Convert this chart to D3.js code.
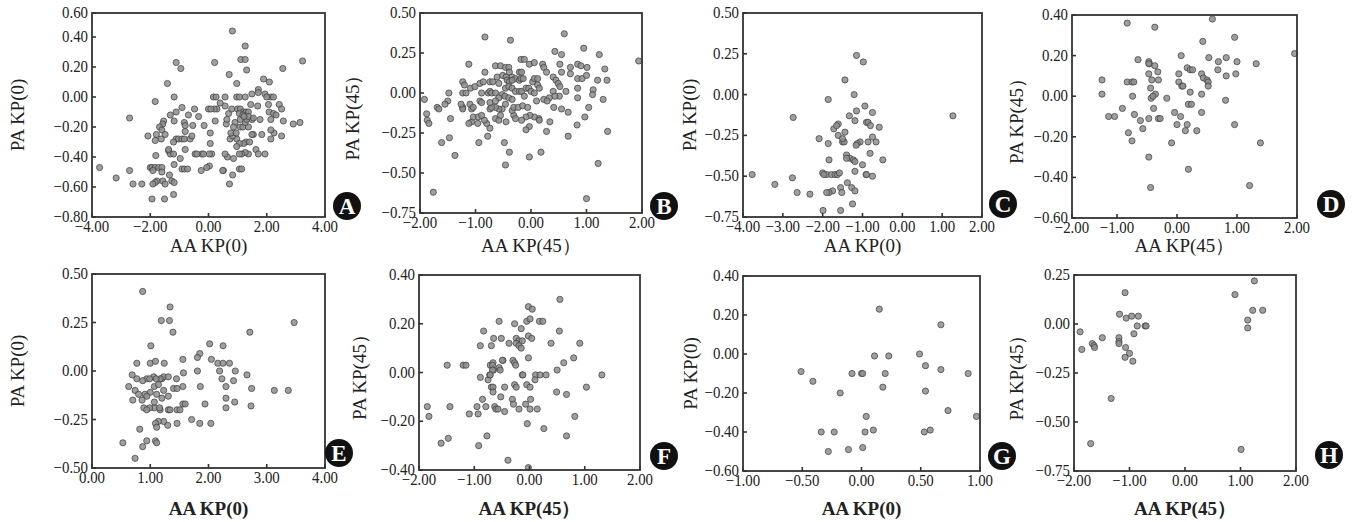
<!DOCTYPE html>
<html>
<head>
<meta charset="utf-8">
<script src="https://cdnjs.cloudflare.com/ajax/libs/d3/7.8.5/d3.min.js"></script>
<style>
body { margin: 0; background: #fff; }
text { font-family: "Liberation Serif", "Times New Roman", serif; fill: #222; }
</style>
</head>
<body>
<script>
// points, [x, y]
const pointsA = [
[0.82,0.44],[1.26,0.34],[1.11,0.25],[1.26,0.25],[1.31,0.18],[3.23,0.24],[-1.11,0.23],[-0.95,0.19],[0.21,0.23],[0.71,0.15],
[2.55,0.19],[0.97,0.09],[1.89,0.12],[2.09,0.10],[-1.41,0.09],[1.71,0.05],[1.71,0.03],[1.49,0.02],[1.94,0.02],[2.14,0.00],
[2.23,0.00],[2.00,0.00],[-1.18,0.00],[-1.83,-0.03],[0.17,0.00],[0.26,0.00],[0.57,0.00],[0.97,0.00],[1.06,0.00],[1.26,0.00],
[2.43,-0.05],[2.51,-0.08],[2.06,-0.05],[1.69,-0.06],[1.45,-0.05],[2.08,-0.10],[2.23,-0.11],[2.32,-0.12],[2.57,-0.16],[2.91,-0.18],
[3.14,-0.17],[2.51,-0.26],[2.25,-0.24],[2.14,-0.22],[2.14,-0.15],[1.77,-0.15],[1.49,-0.15],[2.14,-0.28],[1.94,-0.38],[1.83,-0.25],
[1.54,-0.25],[1.49,-0.25],[1.63,-0.35],[1.71,-0.38],[1.37,-0.38],[1.26,-0.37],[1.14,-0.38],[1.06,-0.38],[1.29,-0.30],[1.41,-0.30],
[1.20,-0.31],[0.97,-0.28],[1.06,-0.31],[0.74,-0.28],[0.83,-0.26],[0.77,-0.24],[0.95,-0.24],[0.97,-0.33],[0.86,-0.41],[0.65,-0.40],
[0.57,-0.38],[1.06,-0.48],[1.14,-0.48],[0.83,-0.52],[0.72,-0.58],[0.51,-0.49],[1.09,-0.20],[1.18,-0.20],[1.37,-0.20],[1.26,-0.17],
[1.31,-0.15],[1.09,-0.15],[0.91,-0.17],[0.86,-0.20],[0.61,-0.18],[0.63,-0.15],[0.69,-0.11],[0.80,-0.08],[1.00,-0.08],[1.09,-0.08],
[1.20,-0.10],[1.29,-0.10],[1.37,-0.10],[0.57,-0.06],[0.40,-0.04],[1.06,-0.11],[1.18,-0.12],[1.37,-0.13],[1.54,-0.14],[1.22,-0.13],
[0.29,-0.08],[0.20,-0.08],[0.00,-0.08],[0.08,-0.08],[0.23,-0.16],[-0.15,-0.19],[0.06,-0.24],[0.11,-0.38],[0.06,-0.31],[0.03,-0.38],
[-0.23,-0.38],[-0.17,-0.38],[-0.46,-0.38],[-0.40,-0.38],[0.03,-0.46],[-0.06,-0.47],[-0.25,-0.49],[0.49,-0.49],[-0.34,-0.13],[-0.48,-0.08],
[-0.69,-0.12],[-0.54,-0.19],[-0.83,-0.17],[-0.80,-0.19],[-0.91,-0.07],[-1.11,-0.10],[-1.18,-0.16],[-1.31,-0.12],[-1.54,-0.16],[-1.57,-0.18],
[-1.68,-0.20],[-1.60,-0.22],[-1.79,-0.25],[-1.49,-0.25],[-1.62,-0.28],[-2.08,-0.26],[-1.83,-0.29],[-1.11,-0.28],[-1.03,-0.28],[-0.91,-0.28],
[-0.83,-0.28],[-0.63,-0.28],[-1.20,-0.30],[-0.57,-0.26],[-0.80,-0.23],[-1.37,-0.36],[-1.31,-0.38],[-1.20,-0.38],[-1.37,-0.35],[-0.97,-0.41],
[-0.80,-0.35],[-0.91,-0.48],[-0.83,-0.48],[-0.72,-0.48],[-1.18,-0.45],[-1.81,-0.39],[-2.00,-0.47],[-1.94,-0.47],[-1.83,-0.47],[-1.71,-0.47],
[-1.60,-0.47],[-1.91,-0.49],[-1.60,-0.50],[-1.57,-0.56],[-1.77,-0.56],[-1.83,-0.57],[-1.91,-0.58],[-1.49,-0.58],[-1.34,-0.52],[-1.26,-0.56],
[-1.18,-0.57],[-1.20,-0.65],[-1.51,-0.68],[-1.94,-0.68],[-2.59,-0.58],[-2.29,-0.58],[-3.17,-0.54],[-2.71,-0.49],[-3.74,-0.47],[-2.71,-0.14]
]
const pointsB = [
[-0.83,0.35],[-0.37,0.33],[0.60,0.37],[0.43,0.26],[0.55,0.24],[0.95,0.28],[1.23,0.24],[1.94,0.20],[-1.12,0.18],[-0.18,0.21],
[-0.12,0.21],[-0.03,0.18],[0.06,0.19],[-0.64,0.17],[-0.55,0.17],[-0.46,0.16],[-0.40,0.16],[-0.83,0.13],[0.21,0.18],[0.23,0.16],
[0.28,0.13],[0.52,0.18],[0.71,0.16],[0.84,0.18],[0.90,0.17],[1.01,0.16],[1.33,0.15],[0.55,0.13],[0.71,0.12],[0.84,0.09],
[0.92,0.09],[1.00,0.11],[1.20,0.08],[1.37,0.08],[0.40,0.10],[0.45,0.08],[0.49,0.06],[0.52,0.04],[0.63,0.01],[0.84,0.03],
[1.12,0.02],[1.11,-0.01],[0.84,-0.03],[1.30,-0.04],[1.04,-0.09],[0.51,-0.02],[0.40,0.01],[0.43,-0.02],[0.33,-0.03],[0.23,-0.04],
[0.29,-0.05],[0.10,-0.05],[0.41,-0.09],[0.55,-0.10],[0.67,-0.12],[0.97,-0.15],[0.83,-0.20],[1.38,-0.24],[0.67,-0.27],[0.28,-0.24],
[0.34,-0.18],[0.14,-0.16],[0.15,-0.17],[0.06,-0.15],[-0.02,-0.14],[-0.09,-0.15],[-0.03,-0.21],[-0.09,-0.23],[0.18,-0.37],[-0.03,-0.40],
[1.21,-0.44],[1.00,-0.66],[-0.46,-0.45],[-0.39,-0.37],[-0.48,-0.31],[-0.94,-0.31],[-0.78,-0.27],[-0.74,-0.22],[-0.80,-0.19],[-0.84,-0.17],
[-0.96,-0.19],[-1.07,-0.18],[-1.12,-0.19],[-1.04,-0.15],[-0.95,-0.15],[-0.89,-0.14],[-0.64,-0.16],[-0.58,-0.17],[-0.55,-0.14],[-0.45,-0.18],
[-0.31,-0.14],[-0.28,-0.16],[-0.17,-0.17],[-0.34,-0.11],[-0.31,-0.09],[-0.23,-0.09],[-0.15,-0.08],[-0.06,-0.09],[-0.46,-0.07],[-0.52,-0.10],
[-0.58,-0.10],[-0.64,-0.09],[-0.74,-0.10],[-0.71,-0.09],[-0.92,-0.05],[-0.89,-0.06],[-0.74,-0.06],[-1.07,-0.10],[-1.10,-0.07],[-1.04,-0.09],
[-1.23,-0.09],[-1.23,-0.10],[-1.26,-0.07],[-1.50,-0.05],[-1.55,-0.07],[-1.69,-0.09],[-1.66,-0.10],[-1.88,-0.13],[-1.87,-0.17],[-1.84,-0.19],
[-1.92,-0.04],[-1.45,-0.16],[-1.47,-0.28],[-1.61,-0.31],[-1.37,-0.39],[-1.76,-0.62],[-1.48,0.00],[-1.23,0.00],[-1.17,0.00],[-1.23,0.07],
[-1.20,0.05],[-1.09,0.03],[-1.01,0.04],[-0.89,0.00],[-0.77,0.00],[-0.74,0.01],[-0.71,0.00],[-0.64,0.00],[-0.92,0.06],[-0.86,0.07],
[-0.74,0.07],[-0.69,0.07],[-0.61,0.10],[-0.58,0.06],[-0.51,0.11],[-0.45,0.10],[-0.39,0.13],[-0.34,0.10],[-0.28,0.09],[-0.43,0.08],
[-0.39,0.07],[-0.34,0.08],[-0.21,0.08],[-0.18,0.09],[-0.14,0.09],[-0.46,0.03],[-0.40,0.04],[-0.34,0.03],[-0.28,0.01],[-0.21,0.01],
[-0.17,0.01],[-0.09,0.03],[-0.04,0.03],[0.00,0.01],[0.03,0.07],[0.06,0.09],[0.12,0.09],[-0.21,0.13],[-0.17,0.13],[-0.52,-0.01],
[-0.47,-0.02],[-0.40,-0.03],[-0.34,-0.04],[-0.58,-0.03],[-0.64,-0.05],[0.12,0.05],[0.15,0.03],[0.06,0.00],[-0.12,-0.02]
]
const pointsC = [
[-1.15,0.24],[-0.98,0.20],[-1.44,0.09],[-1.21,0.00],[-1.86,-0.03],[-2.74,-0.14],[1.27,-0.13],[-0.94,-0.07],[-1.15,-0.10],[-0.75,-0.11],
[-1.33,-0.13],[-1.19,-0.16],[-1.61,-0.18],[-1.72,-0.21],[-1.65,-0.19],[-1.44,-0.23],[-0.90,-0.17],[-0.86,-0.17],[-0.80,-0.19],[-0.58,-0.20],
[-0.75,-0.26],[-0.66,-0.29],[-0.86,-0.29],[-1.06,-0.29],[-1.13,-0.30],[-1.16,-0.31],[-1.50,-0.29],[-1.46,-0.29],[-1.61,-0.25],[-1.50,-0.27],
[-1.86,-0.30],[-2.09,-0.27],[-1.40,-0.37],[-1.32,-0.39],[-1.40,-0.39],[-1.23,-0.40],[-1.19,-0.41],[-0.81,-0.36],[-0.49,-0.40],[-1.00,-0.43],
[-1.19,-0.47],[-0.91,-0.49],[-0.90,-0.49],[-0.75,-0.50],[-1.84,-0.40],[-2.00,-0.48],[-1.90,-0.49],[-1.78,-0.49],[-1.69,-0.49],[-1.63,-0.49],
[-1.58,-0.48],[-1.97,-0.49],[-1.38,-0.54],[-1.27,-0.57],[-1.19,-0.59],[-1.55,-0.57],[-1.52,-0.60],[-1.75,-0.59],[-1.84,-0.60],[-1.90,-0.60],
[-1.25,-0.67],[-1.55,-0.71],[-1.99,-0.71],[-2.32,-0.61],[-2.64,-0.60],[-3.20,-0.55],[-2.76,-0.51],[-3.77,-0.49]
]
const pointsD = [
[-0.83,0.36],[-0.37,0.34],[0.59,0.38],[0.43,0.27],[0.96,0.29],[1.96,0.21],[0.07,0.20],[-0.65,0.18],[-0.47,0.17],[-0.46,0.16],
[-0.47,0.16],[-0.37,0.15],[0.53,0.19],[0.69,0.17],[0.82,0.19],[1.00,0.17],[1.32,0.16],[0.68,0.13],[0.82,0.10],[0.98,0.11],
[0.17,0.14],[0.22,0.13],[0.26,0.13],[-0.32,0.12],[-0.47,0.11],[0.03,0.11],[0.41,0.11],[0.44,0.09],[0.50,0.08],[0.52,0.07],
[0.52,0.05],[-1.25,0.08],[-1.25,0.01],[-0.83,0.07],[-0.75,0.07],[-0.72,0.07],[-0.42,0.08],[-0.31,0.08],[0.03,0.07],[0.08,0.05],
[0.10,0.05],[-0.44,0.04],[-0.36,0.01],[-0.43,-0.01],[-0.40,0.00],[-0.74,0.00],[-0.17,-0.01],[0.22,0.02],[0.41,0.01],[0.81,-0.02],
[0.19,-0.04],[0.24,-0.04],[-0.91,-0.06],[-0.39,-0.06],[-1.14,-0.10],[-1.04,-0.10],[-0.71,-0.09],[-0.61,-0.12],[-0.47,-0.11],[-0.31,-0.11],
[-0.28,-0.11],[-0.04,-0.08],[0.06,-0.10],[0.00,-0.14],[0.17,-0.14],[0.41,-0.08],[0.96,-0.14],[-0.57,-0.16],[-0.81,-0.18],[-0.75,-0.22],
[-0.09,-0.23],[0.14,-0.17],[0.33,-0.17],[1.39,-0.23],[-0.47,-0.30],[0.19,-0.36],[-0.44,-0.45],[1.21,-0.44]
]
const pointsE = [
[0.87,0.41],[1.34,0.33],[1.19,0.26],[1.33,0.26],[1.39,0.20],[2.71,0.20],[3.47,0.25],[1.01,0.13],[2.02,0.14],[2.25,0.13],
[1.85,0.09],[1.81,0.07],[1.56,0.06],[2.05,0.06],[2.16,0.04],[2.25,0.04],[2.36,0.04],[1.00,0.04],[1.09,0.05],[1.24,0.04],
[2.19,0.00],[2.46,0.00],[2.66,-0.02],[2.23,-0.04],[2.43,-0.05],[1.57,-0.01],[1.81,0.00],[2.30,-0.08],[2.74,-0.09],[1.86,-0.08],
[1.56,-0.08],[3.13,-0.10],[3.37,-0.10],[2.30,-0.14],[2.30,-0.19],[2.45,-0.16],[2.73,-0.18],[1.94,-0.17],[1.56,-0.17],[1.60,-0.17],
[1.46,-0.20],[1.51,-0.20],[1.85,-0.27],[2.04,-0.27],[1.71,-0.25],[1.46,-0.27],[1.30,-0.28],[1.23,-0.26],[1.14,-0.26],[1.09,-0.27],
[1.31,-0.20],[1.34,-0.20],[1.17,-0.20],[1.07,-0.19],[1.16,-0.19],[0.99,-0.19],[0.89,-0.19],[0.94,-0.20],[1.07,-0.16],[1.20,-0.14],
[1.31,-0.13],[1.40,-0.09],[1.46,-0.09],[1.23,-0.10],[1.11,-0.12],[1.00,-0.11],[0.91,-0.12],[0.94,-0.13],[0.86,-0.15],[1.07,-0.08],
[1.14,-0.07],[1.20,-0.04],[1.23,-0.03],[1.17,-0.04],[1.31,-0.03],[1.45,-0.04],[1.06,-0.03],[1.10,-0.04],[0.94,-0.04],[0.99,-0.04],
[0.77,-0.04],[0.87,-0.05],[0.69,-0.02],[0.63,-0.08],[0.74,-0.10],[0.80,-0.12],[0.70,-0.15],[0.82,-0.30],[1.09,-0.36],[1.11,-0.37],
[0.94,-0.36],[0.53,-0.37],[0.87,-0.39],[0.74,-0.45],[1.11,-0.29],[0.77,0.04]
]
const pointsF = [
[0.55,0.30],[-0.02,0.27],[0.05,0.26],[-0.55,0.21],[-0.27,0.20],[-0.05,0.21],[0.01,0.22],[0.18,0.21],[0.24,0.21],[0.54,0.17],
[-0.15,0.18],[-0.83,0.17],[-0.65,0.14],[-0.51,0.14],[-0.24,0.14],[-0.19,0.13],[-0.13,0.13],[-0.02,0.15],[0.04,0.14],[0.39,0.12],
[0.91,0.12],[-0.89,0.11],[-0.69,0.11],[-0.37,0.12],[-0.24,0.12],[-0.19,0.11],[-0.15,0.10],[-0.02,0.06],[0.80,0.06],[0.62,0.04],
[0.50,0.01],[1.31,-0.01],[1.03,-0.06],[-1.49,0.03],[-1.20,0.03],[-1.15,0.03],[-0.71,0.03],[-0.66,0.04],[-0.67,0.03],[-0.48,0.05],
[-0.49,0.05],[-0.55,0.02],[-0.53,0.01],[-0.65,0.01],[-0.67,0.01],[-0.30,0.05],[-0.27,0.04],[-0.25,0.03],[-0.89,-0.02],[-0.75,-0.03],
[-0.72,-0.01],[-0.71,-0.01],[-0.13,-0.01],[-0.12,-0.01],[0.11,-0.01],[0.19,-0.01],[0.30,-0.01],[0.10,-0.03],[-0.27,-0.05],[-0.24,-0.06],
[-0.45,-0.06],[-0.05,-0.05],[0.01,-0.06],[-0.69,-0.06],[-0.66,-0.06],[-0.66,-0.08],[-0.52,-0.10],[-0.85,-0.11],[-0.31,-0.11],[0.02,-0.11],
[-0.07,-0.13],[-0.29,-0.13],[-0.19,-0.15],[0.14,-0.15],[0.01,-0.15],[0.49,-0.08],[0.67,-0.09],[-0.63,-0.14],[-0.61,-0.15],[-0.57,-0.15],
[-0.79,-0.14],[-0.95,-0.14],[-0.93,-0.17],[-0.45,-0.16],[-1.09,-0.17],[-1.44,-0.14],[-1.85,-0.14],[-1.82,-0.18],[-1.60,-0.29],[-1.47,-0.27],
[-0.77,-0.26],[-0.92,-0.30],[-0.39,-0.36],[-0.02,-0.39],[-0.04,-0.21],[0.26,-0.23],[0.67,-0.26],[0.82,-0.18]
]
const pointsG = [
[0.15,0.23],[0.67,0.15],[0.11,-0.01],[0.23,-0.01],[0.49,0.00],[0.54,-0.06],[0.67,-0.08],[0.90,-0.10],[0.00,-0.10],[0.01,-0.10],
[-0.08,-0.10],[0.20,-0.10],[-0.51,-0.09],[-0.41,-0.14],[-0.18,-0.20],[0.18,-0.17],[0.54,-0.19],[0.73,-0.29],[0.97,-0.32],[0.04,-0.32],
[-0.34,-0.40],[-0.23,-0.40],[0.03,-0.40],[0.10,-0.39],[0.53,-0.40],[0.58,-0.39],[0.01,-0.48],[-0.11,-0.49],[-0.28,-0.50]
]
const pointsH = [
[1.25,0.22],[0.90,0.15],[-1.08,0.16],[1.22,0.07],[1.40,0.07],[1.13,0.02],[1.13,-0.02],[-1.18,0.05],[-1.06,0.03],[-0.96,0.04],
[-0.84,0.04],[-0.86,-0.01],[-0.72,-0.01],[-0.70,-0.01],[-0.92,-0.05],[-1.89,-0.04],[-1.86,-0.13],[-1.67,-0.10],[-1.64,-0.11],[-1.63,-0.12],
[-1.49,-0.07],[-1.19,-0.07],[-1.19,-0.09],[-1.19,-0.10],[-1.07,-0.12],[-1.00,-0.15],[-1.08,-0.17],[-0.94,-0.19],[-1.33,-0.38],[-1.70,-0.61],
[1.01,-0.64]
]

// tick values and their printed labels
const xTicksA = [-4,-2,0,2,4], xLabelsA = ["−4.00","−2.00","0.00","2.00","4.00"]
const yTicksA = [-0.8,-0.6,-0.4,-0.2,0,0.2,0.4,0.56], yLabelsA = ["−0.80","−0.60","−0.40","−0.20","0.00","0.20","0.40","0.60"]
const xTicksB = [-2,-1,0,1,2], xLabelsB = ["−2.00","−1.00","0.00","1.00","2.00"]
const yTicksB = [-0.75,-0.5,-0.25,0,0.25,0.5], yLabelsB = ["−0.75","−0.50","−0.25","0.00","0.25","0.50"]
const xTicksC = [-4,-3,-2,-1,0,1,2], xLabelsC = ["−4.00","−3.00","−2.00","−1.00","0.00","1.00","2.00"]
const yTicksC = yTicksB, yLabelsC = yLabelsB
const xTicksD = [-1.75,-1,0,1,2], xLabelsD = ["−2.00","−1.00","0.00","1.00","2.00"]
const yTicksD = [-0.6,-0.4,-0.2,0,0.2,0.4], yLabelsD = ["−0.60","−0.40","−0.20","0.00","0.20","0.40"]
const xTicksE = [0,1,2,3,4], xLabelsE = ["0.00","1.00","2.00","3.00","4.00"]
const yTicksE = [-0.5,-0.25,0,0.25,0.5], yLabelsE = ["−0.50","−0.25","0.00","0.25","0.50"]
const xTicksF = xTicksB, xLabelsF = xLabelsB
const yTicksF = [-0.4,-0.2,0,0.2,0.4], yLabelsF = ["−0.40","−0.20","0.00","0.20","0.40"]
const xTicksG = [-1,-0.5,0,0.5,1], xLabelsG = ["−1.00","−0.50","0.00","0.50","1.00"]
const yTicksG = yTicksD, yLabelsG = yLabelsD
const xTicksH = xTicksB, xLabelsH = xLabelsB
const yTicksH = [-0.75,-0.5,-0.25,0,0.25], yLabelsH = ["−0.75","−0.50","−0.25","0.00","0.25"]

const W = 1359, H = 522

// frame boxes and label spots for each panel
const panels = [
  {id:"A", pts:pointsA, box:[92,13,325,217], xd:[-4,4], yd:[-0.8,0.56], xt:xTicksA, xl:xLabelsA, yt:yTicksA, yl:yLabelsA,
   xTitle:"AA KP(0)", yTitle:"PA KP(0)", ytx:18, badge:[347,206], row:0},
  {id:"B", pts:pointsB, box:[420,13,642,213], xd:[-2,2], yd:[-0.75,0.5], xt:xTicksB, xl:xLabelsB, yt:yTicksB, yl:yLabelsB,
   xTitle:"AA KP(45）", yTitle:"PA KP(45）", ytx:353, badge:[664,206], row:0},
  {id:"C", pts:pointsC, box:[743,13,982,217], xd:[-4,2], yd:[-0.75,0.5], xt:xTicksC, xl:xLabelsC, yt:yTicksC, yl:yLabelsC,
   xTitle:"AA KP(0)", yTitle:"PA KP(0)", ytx:690, badge:[1003,204], row:0},
  {id:"D", pts:pointsD, box:[1072,15,1297,218], xd:[-1.75,2], yd:[-0.6,0.4], xt:xTicksD, xl:xLabelsD, yt:yTicksD, yl:yLabelsD,
   xTitle:"AA KP(45）", yTitle:"PA KP(45）", ytx:1017, badge:[1331,204], row:0},
  {id:"E", pts:pointsE, box:[92,274,325,468], xd:[0,4], yd:[-0.5,0.5], xt:xTicksE, xl:xLabelsE, yt:yTicksE, yl:yLabelsE,
   xTitle:"AA KP(0)", yTitle:"PA KP(0)", ytx:18, badge:[339,453], row:1},
  {id:"F", pts:pointsF, box:[419,275,640,470], xd:[-2,2], yd:[-0.4,0.4], xt:xTicksF, xl:xLabelsF, yt:yTicksF, yl:yLabelsF,
   xTitle:"AA KP(45）", yTitle:"PA KP(45）", ytx:360, badge:[664,456], row:1},
  {id:"G", pts:pointsG, box:[743,276,980,471], xd:[-1,1], yd:[-0.6,0.4], xt:xTicksG, xl:xLabelsG, yt:yTicksG, yl:yLabelsG,
   xTitle:"AA KP(0)", yTitle:"PA KP(0)", ytx:691, badge:[1002,456], row:1},
  {id:"H", pts:pointsH, box:[1074,275,1296,471], xd:[-2,2], yd:[-0.75,0.25], xt:xTicksH, xl:xLabelsH, yt:yTicksH, yl:yLabelsH,
   xTitle:"AA KP(45）", yTitle:"PA KP(45）", ytx:1017, badge:[1329,455], row:1}
]

const svg = d3.select("body").append("svg")
    .attr("width", W)
    .attr("height", H)

// squeeze the serif glyphs sideways a bit, the scan uses a narrow face
function narrow(sel, k) {
    sel.each(function() {
        let len = this.getComputedTextLength()
        d3.select(this).attr("textLength", len * k).attr("lengthAdjust", "spacingAndGlyphs")
    })
}

panels.forEach(function(p) {
    let [x0, y0, x1, y1] = p.box
    let x = d3.scaleLinear().domain(p.xd).range([x0, x1])
    let y = d3.scaleLinear().domain(p.yd).range([y1, y0])
    let g = svg.append("g")

    // points first, frame on top
    g.selectAll("circle.pt")
        .data(p.pts)
        .enter()
        .append("circle")
        .attr("class", "pt")
        .attr("cx", function(d) {return x(d[0])})
        .attr("cy", function(d) {return y(d[1])})
        .attr("r", 3.1)
        .attr("fill", "#8e8e8e")
        .attr("fill-opacity", 0.85)
        .attr("stroke", "#3e3e3e")
        .attr("stroke-opacity", 0.8)
        .attr("stroke-width", 0.9)

    g.append("rect")
        .attr("x", x0).attr("y", y0)
        .attr("width", x1 - x0).attr("height", y1 - y0)
        .attr("fill", "none")
        .attr("stroke", "#333")
        .attr("stroke-width", 1.8)

    // inward tick marks
    g.selectAll("line.xt")
        .data(p.xt)
        .enter()
        .append("line")
        .attr("x1", function(d) {return x(d)}).attr("x2", function(d) {return x(d)})
        .attr("y1", y1).attr("y2", y1 - 4)
        .attr("stroke", "#333").attr("stroke-width", 1.6)
    g.selectAll("line.yt")
        .data(p.yt)
        .enter()
        .append("line")
        .attr("x1", x0).attr("x2", x0 + 4)
        .attr("y1", function(d) {return y(d)}).attr("y2", function(d) {return y(d)})
        .attr("stroke", "#333").attr("stroke-width", 1.6)

    let xl = g.selectAll("text.xl")
        .data(p.xt)
        .enter()
        .append("text")
        .text(function(d, i) {return p.xl[i]})
        .attr("x", function(d) {return x(d)})
        .attr("y", y1 + 15)
        .attr("text-anchor", "middle")
        .attr("font-size", "17.5px")
    narrow(xl, 0.85)

    let yl = g.selectAll("text.yl")
        .data(p.yt)
        .enter()
        .append("text")
        .text(function(d, i) {return p.yl[i]})
        .attr("x", x0 - 4)
        .attr("y", function(d) {return y(d) + 5})
        .attr("text-anchor", "end")
        .attr("font-size", "17.5px")
    narrow(yl, 0.85)

    g.append("text")
        .text(p.xTitle)
        .attr("x", (x0 + x1) / 2)
        .attr("y", p.row == 0 ? 252 : 515)
        .attr("text-anchor", "middle")
        .attr("font-size", "19px")
        .attr("font-weight", p.row == 0 ? "normal" : "bold")

    g.append("text")
        .text(p.yTitle)
        .attr("transform", "translate(" + (p.ytx + 6) + "," + ((y0 + y1) / 2) + ") rotate(-90)")
        .attr("text-anchor", "middle")
        .attr("font-size", "19px")

    // panel letter badge
    g.append("circle")
        .attr("cx", p.badge[0]).attr("cy", p.badge[1])
        .attr("r", 14)
        .attr("fill", "#111")
    g.append("text")
        .text(p.id)
        .attr("x", p.badge[0]).attr("y", p.badge[1] + 8)
        .attr("text-anchor", "middle")
        .attr("font-size", "23px")
        .attr("font-weight", "bold")
        .style("fill", "#fff")
})
</script>
</body>
</html>
